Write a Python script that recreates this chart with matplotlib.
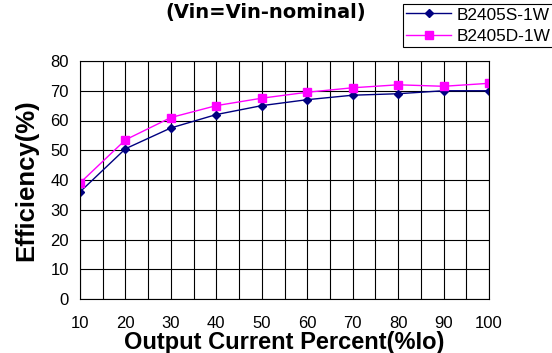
import matplotlib.pyplot as plt
from matplotlib.ticker import MultipleLocator

plt.rcParams['font.family'] = ['Liberation Sans', 'DejaVu Sans']

load = [10, 20, 30, 40, 50, 60, 70, 80, 90, 100]
eff_s = [36, 50.5, 57.5, 62, 65, 67, 68.5, 69, 70, 70]
eff_d = [39, 53.5, 61, 65, 67.5, 69.5, 71, 72, 71.5, 72.5]

fig = plt.figure(figsize=(5.52, 3.53), dpi=100)
ax = fig.add_axes([80 / 552, 54 / 353, 409 / 552, 238 / 353])

ax.plot(load, eff_s, color='#000080', marker='D', markersize=4.5, linewidth=1, label='B2405S-1W')
ax.plot(load, eff_d, color='#ff00ff', marker='s', markersize=5.5, linewidth=1, label='B2405D-1W')

ax.set_xlim(10, 100)
ax.set_ylim(0, 80)
ax.xaxis.set_major_locator(MultipleLocator(10))
ax.xaxis.set_minor_locator(MultipleLocator(5))
ax.yaxis.set_major_locator(MultipleLocator(10))
ax.grid(True, which='both', axis='x', color='black', linewidth=0.8)
ax.grid(True, which='major', axis='y', color='black', linewidth=0.8)
ax.tick_params(which='both', length=0, labelsize=12)
ax.tick_params(axis='x', pad=12)
ax.tick_params(axis='y', pad=8)
for s in ax.spines.values():
    s.set_color('black')
    s.set_linewidth(0.8)

ax.set_xlabel('Output Current Percent(%Io)', fontsize=17, fontweight='bold', labelpad=0)
ax.set_ylabel('Efficiency(%)', fontsize=18.5, fontweight='bold', labelpad=9)

# title sits right at the top edge in the original
fig.text(266 / 552, 1 - 18 / 353, '(Vin=Vin-nominal)', ha='center', va='baseline',
         fontsize=14, fontweight='bold', family='DejaVu Sans')

leg = fig.legend(loc='upper left', bbox_to_anchor=(403 / 552, 1 - 4 / 353), fancybox=False,
                 framealpha=1, edgecolor='black', fontsize=12.4, borderaxespad=0,
                 handlelength=2.6, borderpad=0.2, labelspacing=0.35, handletextpad=0.3)
leg.get_frame().set_linewidth(0.8)

fig.savefig('out.png', dpi=100)
